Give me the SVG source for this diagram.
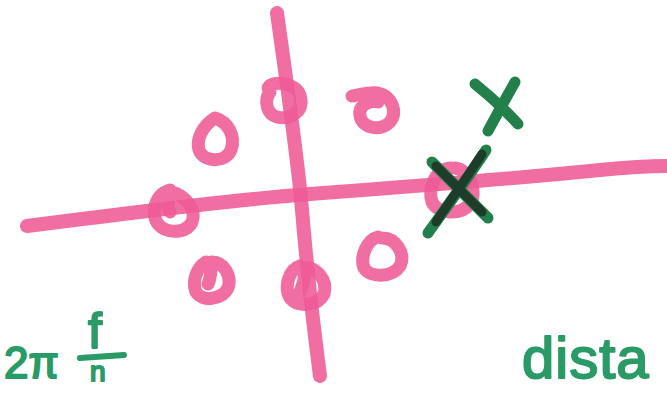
<svg xmlns="http://www.w3.org/2000/svg" width="667" height="393" viewBox="0 0 667 393">
<style>
.pk{fill:none;stroke:#ee5a95;stroke-linecap:round;stroke-linejoin:round;stroke-opacity:0.88}
.ln{stroke-width:14}
.lp{stroke-width:13}
.gx{fill:none;stroke:#24804a;stroke-width:11;stroke-linecap:round}
.gd{fill:none;stroke:#1d3d2a;stroke-width:9;stroke-linecap:round}
.tx{font-family:"Liberation Sans",Arial,sans-serif;fill:#2a9b66;stroke:#2a9b66;stroke-width:2;stroke-linejoin:round}
</style>
<rect width="667" height="393" fill="#ffffff"/>
<g id="axes">
<path class="pk ln" d="M27,226 C120,214 230,200 310,194 C420,186 520,178 600,170 C630,167 650,166 667,166"/>
<path class="pk ln" d="M277,13 C285,70 298,160 302,210 C307,270 314,330 320,376"/>
</g>
<g id="points">
<path class="pk lp" d="M268,88 C272,80 295,82 300,95 C305,112 290,120 277,117 C266,114 264,100 270,92"/>
<path class="pk lp" d="M352,96 C362,94 370,92 378,93 C392,96 398,112 390,122 C380,132 362,128 360,116 C358,106 368,100 378,102"/>
<path class="pk lp" d="M215,118 C202,126 196,140 199,150 C203,162 225,164 231,150 C236,136 228,122 215,118 Z"/>
<path class="pk lp" d="M170,190 C155,194 150,214 158,224 C166,234 186,234 192,222 C197,210 186,196 172,192 C168,200 166,206 170,212"/>
<path class="pk lp" d="M206,262 C196,268 192,282 196,292 C202,302 222,300 228,288 C232,276 224,262 212,262 C210,268 212,276 208,284"/>
<path class="pk lp" d="M300,266 C288,270 284,288 290,298 C298,308 318,306 324,294 C328,280 316,266 304,268 C306,276 302,288 298,296"/>
<path class="pk lp" d="M378,237 C366,240 360,258 364,268 C370,278 392,278 400,266 C406,254 396,238 382,238"/>
<path class="pk lp" d="M450,168 C434,170 428,190 432,202 C438,214 460,216 470,204 C478,192 470,170 455,168"/>
</g>
<g id="crosses">
<path class="gx" d="M475,84 C490,96 505,110 518,124"/>
<path class="gx" d="M515,82 C506,98 496,116 488,131"/>
<path class="gx" d="M432,162 C450,180 470,200 488,218"/>
<path class="gx" d="M486,150 C470,175 448,205 428,233"/>
<path class="gd" d="M436,166 C452,182 468,198 482,212"/>
<path class="gd" d="M482,154 C468,176 452,198 436,222"/>
</g>
<g id="labels">
<text class="tx" x="4" y="378" font-size="44">2π</text>
<text class="tx" x="88" y="348" font-size="50">f</text>
<path d="M80,358 L124,355" fill="none" stroke="#2a9b66" stroke-width="6" stroke-linecap="round"/>
<text class="tx" x="90" y="381" font-size="28">n</text>
<text class="tx" x="522" y="378" font-size="58" letter-spacing="1">dista</text>
</g>
</svg>
